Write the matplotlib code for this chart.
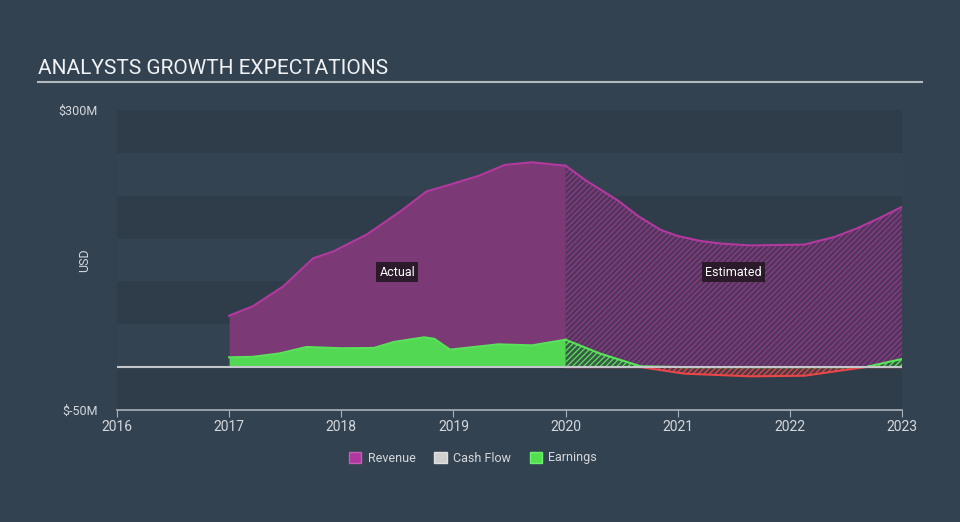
import matplotlib.pyplot as plt
from matplotlib.patches import Patch

plt.rcParams['font.family'] = ['Roboto', 'DejaVu Sans']
plt.rcParams['hatch.linewidth'] = 0.9

# data (USD millions)
rev_act_x = [2017.0, 2017.21, 2017.48, 2017.75, 2017.93, 2018.23, 2018.53, 2018.76, 2018.97, 2019.22, 2019.46, 2019.7, 2020.0]
rev_act = [60, 71, 94, 127, 135, 155, 182, 205, 213, 223, 236, 239, 235]
rev_est_x = [2020.0, 2020.19, 2020.46, 2020.65, 2020.85, 2021.0, 2021.21, 2021.4, 2021.65, 2022.13, 2022.4, 2022.6, 2022.8, 2023.0]
rev_est = [235, 217, 195, 176, 160, 153, 147, 144, 142, 143, 152, 162, 174, 187]

earn_act_x = [2017.0, 2017.21, 2017.45, 2017.69, 2018.0, 2018.29, 2018.47, 2018.74, 2018.83, 2018.97, 2019.4, 2019.7, 2020.0]
earn_act = [11.5, 12, 16, 23.5, 22, 22.4, 29.4, 34.8, 33, 20.4, 26.6, 25.4, 32]
earn_est_x = [2020.0, 2020.31, 2020.67, 2021.06, 2021.65, 2022.13, 2022.67, 2023.0]
earn_est = [32, 15.7, 1, -7.6, -10.7, -10, 0, 9.5]

years = [2016, 2017, 2018, 2019, 2020, 2021, 2022, 2023]
ymin, ymax = -50, 300

bg = '#334251'
rev_line = '#b3399f'
rev_fill = '#7b3a76'
earn_line = '#5ae35a'
earn_fill = '#52d853'
neg_line = '#e8474a'
txt = '#d4d8dc'

fig = plt.figure(figsize=(9.6, 5.22), dpi=100, facecolor=bg)
ax = fig.add_axes([117/960, 112/522, 785/960, 300/522])
ax.set_facecolor(bg)

# alternating horizontal bands
for i, lo in enumerate(range(ymin, ymax, 50)):
    col = '#2f3d4b' if i % 2 == 0 else '#344351'
    ax.axhspan(lo, lo + 50, color=col, lw=0, zorder=0)

# revenue
ax.fill_between(rev_act_x, 0, rev_act, color=rev_fill, lw=0, zorder=2)
ax.plot(rev_act_x, rev_act, color=rev_line, lw=1.5, zorder=3)
ax.fill_between(rev_est_x, 0, rev_est, facecolor='#52355d', edgecolor='#8c3d86',
                hatch='//////', lw=0, zorder=2)
ax.plot(rev_est_x, rev_est, color=rev_line, lw=1.5, zorder=3)

# earnings
ax.fill_between(earn_act_x, 0, earn_act, color=earn_fill, lw=0, zorder=4)
ax.plot(earn_act_x, earn_act, color=earn_line, lw=1.5, zorder=5)
pos = [v >= 0 for v in earn_est]
neg = [v <= 0 for v in earn_est]
ax.fill_between(earn_est_x, 0, earn_est, where=pos, interpolate=True,
                facecolor='#3a5a48', edgecolor=earn_line, hatch='//////', lw=0, zorder=4)
ax.fill_between(earn_est_x, 0, earn_est, where=neg, interpolate=True,
                facecolor='#4a3a45', edgecolor=neg_line, hatch='//////', lw=0, zorder=4)
ax.plot(earn_est_x, [max(v, 0) for v in earn_est], color=earn_line, lw=1.5, zorder=5)
ax.plot(earn_est_x, [min(v, 0) for v in earn_est], color=neg_line, lw=1.5, zorder=5)

ax.axhline(0, color='#c4c8cc', lw=1.5, zorder=6)

ax.text(2018.5, 111, 'Actual', color='white', fontsize=9, ha='center', va='center', zorder=7,
        bbox=dict(boxstyle='square,pad=0.25', fc='#2a1a2a', ec='none'))
ax.text(2021.5, 111, 'Estimated', color='white', fontsize=9, ha='center', va='center', zorder=7,
        bbox=dict(boxstyle='square,pad=0.25', fc='#2a1a2a', ec='none'))

ax.set_xlim(2016, 2023)
ax.set_ylim(ymin, ymax)
ax.set_xticks(years)
ax.set_xticklabels([str(y) for y in years], color=txt, fontsize=10)
ax.set_yticks([-50, 300])
ax.set_yticklabels(['$-50M', '$300M'], color=txt, fontsize=9)
ax.tick_params(axis='y', length=0, pad=14)
ax.tick_params(axis='x', length=5, color='#aab2ba', pad=2)
for s in ['top', 'right', 'left']:
    ax.spines[s].set_visible(False)
ax.spines['bottom'].set_color('#aab2ba')
ax.spines['bottom'].set_linewidth(1.2)
ax.set_ylabel('USD', color=txt, fontsize=9)
ax.yaxis.set_label_coords(-0.033, 0.5)

fig.text(38/960, 1 - 68/522, 'ANALYSTS GROWTH EXPECTATIONS', color='#f0f2f4',
         fontsize=15, va='center', ha='left')
fig.add_artist(plt.Line2D([38/960, 922/960], [1 - 82/522, 1 - 82/522],
                          color='#b4b9be', lw=1.5))

handles = [Patch(facecolor='#b0379f', edgecolor='#c060b0', label='Revenue'),
           Patch(facecolor='#d0d0d0', edgecolor='#e0e0e0', label='Cash Flow'),
           Patch(facecolor='#53e04f', edgecolor='#70f070', label='Earnings')]
leg = fig.legend(handles=handles, loc='center', bbox_to_anchor=(473/960, 1 - 458/522),
                 ncol=3, frameon=False, fontsize=9, handlelength=1.0, handleheight=1.0,
                 handletextpad=0.5, columnspacing=1.5)
for t in leg.get_texts():
    t.set_color(txt)

fig.savefig('out.png', dpi=100, facecolor=bg)
